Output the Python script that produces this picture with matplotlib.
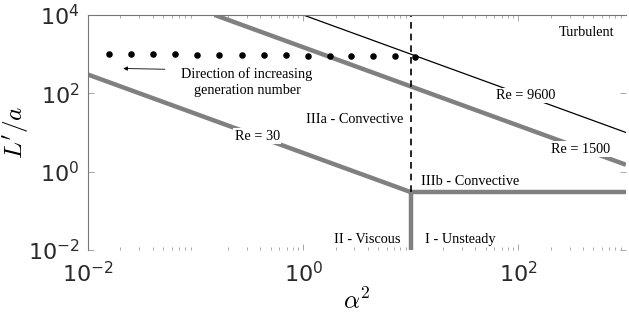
import matplotlib
matplotlib.use('Agg')
import numpy as np
import matplotlib.pyplot as plt

# generations (alpha^2, L'/a)
gen_alpha2 = [0.0155, 0.025, 0.040, 0.065, 0.104, 0.166, 0.27, 0.43, 0.69, 1.1, 1.77, 2.8, 4.5, 7.2, 11.0]
gen_La = [1000, 1000, 990, 980, 970, 960, 950, 940, 930, 920, 910, 900, 890, 880, 860]

# regime boundaries
re30_x = [0.01, 10]
re30_y = [300, 0.3]
re1500_x = [0.15, 1000]
re1500_y = [10000, 1.5]
re9600_x = [1.0, 1000]
re9600_y = [10000, 10]
flat_x = [10, 1000]
flat_y = [0.3, 0.3]
wall_x = [10, 10]
wall_y = [0.01, 0.3]
dash_x = [10, 10]
dash_y = [0.3, 10000]

plt.rcParams['mathtext.fontset'] = 'cm'
fig = plt.figure(figsize=(6.29, 3.18), dpi=100)
ax = fig.add_axes([0.14, 0.214, 0.855, 0.739])

grey = '#808080'
ax.plot(re30_x, re30_y, color=grey, lw=3.2, solid_capstyle='butt')
ax.plot(re1500_x, re1500_y, color=grey, lw=3.2, solid_capstyle='butt')
ax.plot(flat_x, flat_y, color=grey, lw=3.2, solid_capstyle='butt')
ax.plot(wall_x, wall_y, color=grey, lw=3.2, solid_capstyle='butt')
ax.plot(re9600_x, re9600_y, color='black', lw=0.9)
ax.plot(dash_x, dash_y, color='black', lw=1.2, ls=(0, (4, 3)))
ax.plot(gen_alpha2, gen_La, 'o', color='black', ms=3.7, zorder=5)

ax.set_xscale('log')
ax.set_yscale('log')
ax.set_xlim(1e-2, 1e3)
ax.set_ylim(1e-2, 1e4)
ax.set_xticks([1e-2, 1e0, 1e2])
ax.set_yticks([1e-2, 1e0, 1e2, 1e4])
ax.tick_params(which='both', direction='in', top=True, right=True, labelsize=16,
               labelcolor='#2a2a2a', color='#999999', width=0.6)
ax.tick_params(which='major', length=4, pad=8)
ax.tick_params(axis='y', which='major', pad=6)
ax.tick_params(which='minor', length=2)
for s in ['bottom', 'right']:
    ax.spines[s].set_visible(False)
for s in ['top', 'left']:
    ax.spines[s].set_color('#777777')
    ax.spines[s].set_linewidth(0.8)

ax.set_xlabel(r'$\alpha^2$', fontsize=18, labelpad=2)
ax.set_ylabel(r"$L'/a$", fontsize=18, va='center')
ax.yaxis.set_label_coords(-0.134, 0.5)

tfont = dict(family='Liberation Serif', fontsize=10.3)
box = dict(facecolor='white', edgecolor='none', pad=1)
ax.text(780, 3500, 'Turbulent', ha='right', va='center', **tfont)
ax.text(116, 88, 'Re = 9600', ha='center', va='center', bbox=box, **tfont)
ax.text(383, 3.7, 'Re = 1500', ha='center', va='center', bbox=box, **tfont)
ax.text(3.0, 22, 'IIIa - Convective', ha='center', va='center', **tfont)
ax.text(0.375, 8.0, 'Re = 30', ha='center', va='center', bbox=box, **tfont)
ax.text(36, 0.55, 'IIIb - Convective', ha='center', va='center', **tfont)
ax.text(3.9, 0.018, 'II - Viscous', ha='center', va='center', **tfont)
ax.text(29, 0.018, 'I - Unsteady', ha='center', va='center', **tfont)
ax.text(0.30, 195, 'Direction of increasing\ngeneration number', ha='center', va='center',
        linespacing=1.3, **tfont)
ax.annotate('', xy=(0.02, 430), xytext=(0.055, 410),
            arrowprops=dict(arrowstyle='-|>', color='black', lw=0.6, mutation_scale=6))

fig.savefig('out.png', dpi=100)
